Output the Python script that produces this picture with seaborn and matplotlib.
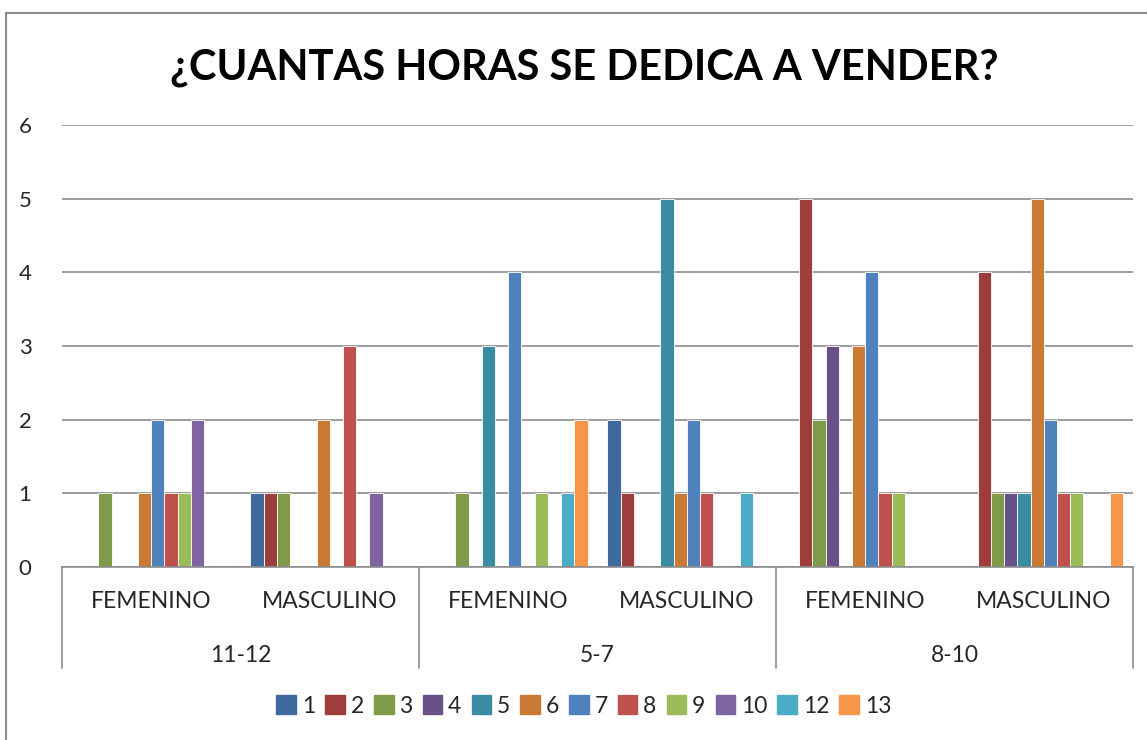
import pandas as pd
import numpy as np
import seaborn as sns
import matplotlib.pyplot as plt
from matplotlib.patches import Rectangle

# groups on the x axis (age range / sex)
edades = ["11-12", "5-7", "8-10"]
sexos = ["FEMENINO", "MASCULINO"]

# counts per answer (hours), one value per age/sex group
h1 = [0, 1, 0, 2, 0, 0]
h2 = [0, 1, 0, 1, 5, 4]
h3 = [1, 1, 1, 0, 2, 1]
h4 = [0, 0, 0, 0, 3, 1]
h5 = [0, 0, 3, 5, 0, 1]
h6 = [1, 2, 0, 1, 3, 5]
h7 = [2, 0, 4, 2, 4, 2]
h8 = [1, 3, 0, 1, 1, 1]
h9 = [1, 0, 1, 0, 1, 1]
h10 = [2, 1, 0, 0, 0, 0]
h12 = [0, 0, 1, 1, 0, 0]
h13 = [0, 0, 2, 0, 0, 1]

series = ["1", "2", "3", "4", "5", "6", "7", "8", "9", "10", "12", "13"]
valores = [h1, h2, h3, h4, h5, h6, h7, h8, h9, h10, h12, h13]
colores = ["#3F6A9D", "#9E3E3C", "#7F9A48", "#6A5088", "#3A8CA3", "#CB7A36",
           "#4F81BD", "#C0504D", "#9BBB59", "#8064A2", "#4BACC6", "#F79646"]

grupos = [e + " " + s for e in edades for s in sexos]
rows = []
for name, vals in zip(series, valores):
    for g, v in zip(grupos, vals):
        rows.append({"grupo": g, "horas": name, "n": v})
df = pd.DataFrame(rows)

sns.set_theme(style="white")
plt.rcParams['font.family'] = ['Lato', 'DejaVu Sans']

fig = plt.figure(figsize=(11.47, 7.4), dpi=100)
ax = fig.add_axes([62 / 1147, 173 / 740, 1071 / 1147, 442 / 740])

sns.barplot(data=df, x="grupo", y="n", hue="horas", order=grupos, hue_order=series,
            palette=colores, width=12 / 13.5, edgecolor="white", linewidth=0.6,
            legend=False, ax=ax, errorbar=None, saturation=1)

ax.set_xlim(-0.5, 5.5)
ax.set_ylim(0, 6)
ax.set_yticks(range(7))
ax.tick_params(axis="y", labelsize=16, length=0, pad=22)
ax.yaxis.grid(True, color="#8C8C8C", linewidth=1.2)
ax.set_axisbelow(True)
ax.set_xticks([])
ax.set_xlabel("")
ax.set_ylabel("")
for side in ["left", "right", "top"]:
    ax.spines[side].set_visible(False)
ax.spines["bottom"].set_color("#8C8C8C")
ax.spines["bottom"].set_linewidth(1.2)

# two level category axis
tr = ax.get_xaxis_transform()
low = -101 / 442
for xb in [-0.5, 1.5, 3.5, 5.5]:
    ax.plot([xb, xb], [0, low], transform=tr, color="#8C8C8C", lw=1.2, clip_on=False)
for i, g in enumerate(grupos):
    ax.text(i, -34 / 442, g.split(" ")[1], transform=tr, ha="center", va="center", fontsize=16.5)
for j, e in enumerate(edades):
    ax.text(2 * j + 0.5, -88 / 442, e, transform=tr, ha="center", va="center", fontsize=16.5)

fig.text(0.509, (740 - 68) / 740, "¿CUANTAS HORAS SE DEDICA A VENDER?", ha="center", va="center",
         fontsize=30, fontweight="bold", color="black")

handles = [Rectangle((0, 0), 1, 1, color=c) for c in colores]
fig.legend(handles, series, loc="center", bbox_to_anchor=(0.509, (740 - 706) / 740), ncol=12,
           frameon=False, fontsize=16.5, handlelength=0.85, handleheight=0.85,
           handletextpad=0.25, columnspacing=0.45)

fig.patches.append(Rectangle((6 / 1147, -0.05), 1.1, (740 - 13) / 740 + 0.05, transform=fig.transFigure,
                             fill=False, edgecolor="#8C8C8C", linewidth=1.5))

fig.savefig("out.png", dpi=100)
